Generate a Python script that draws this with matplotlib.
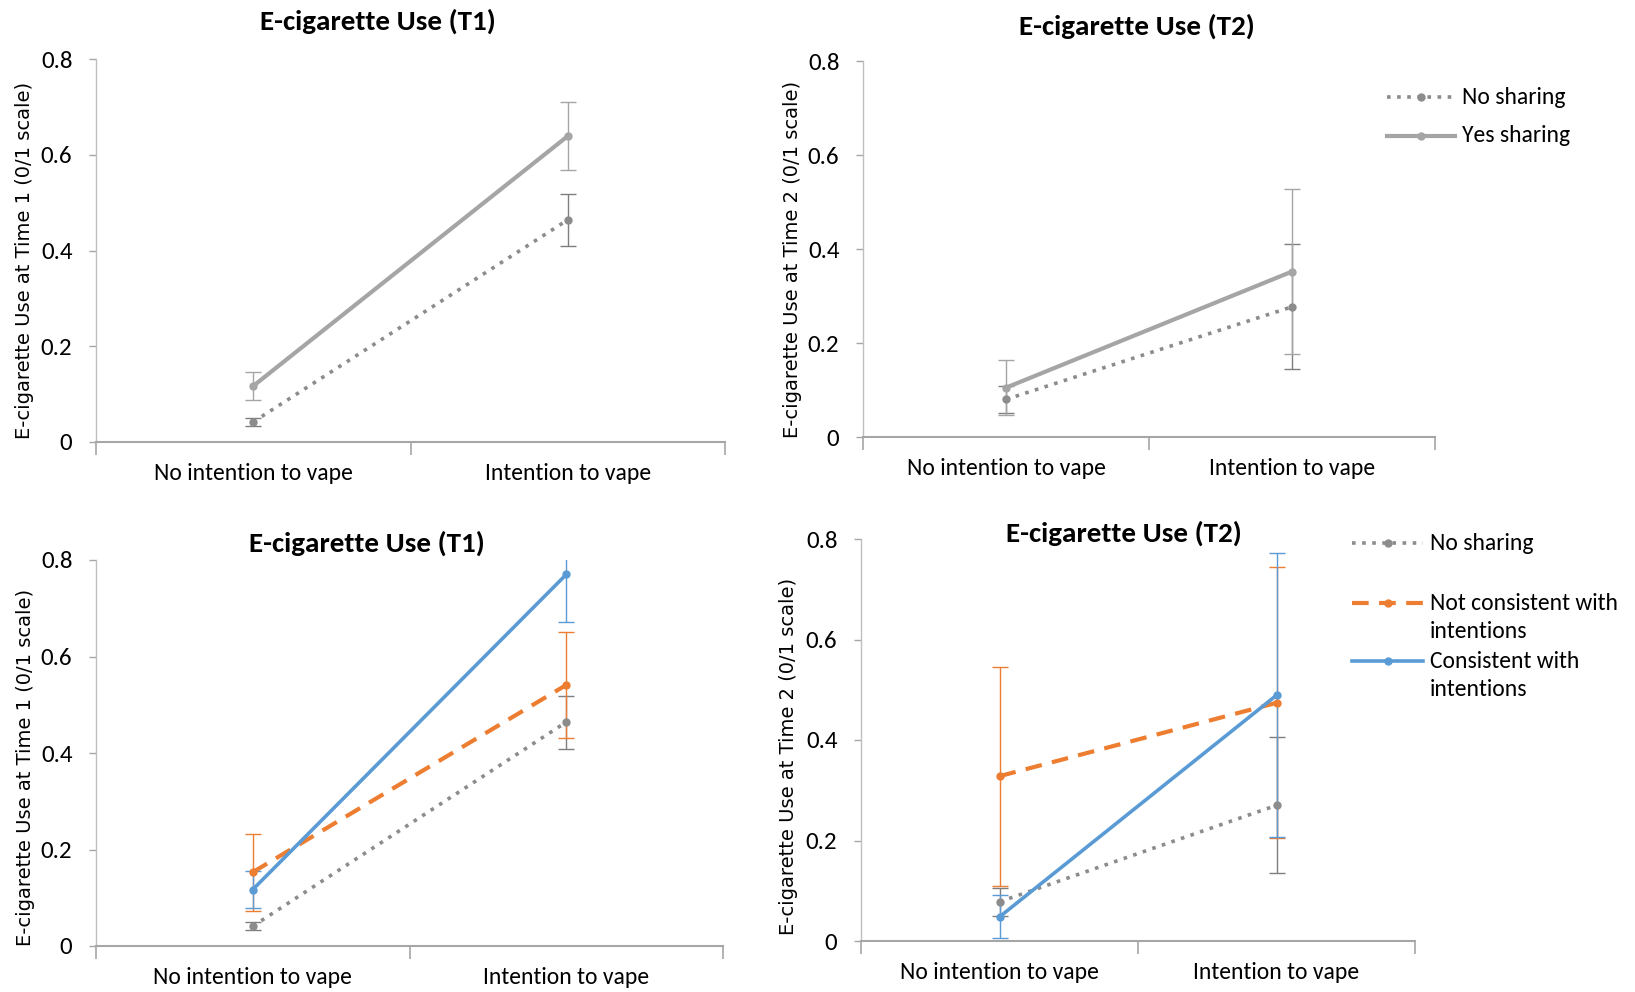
import matplotlib
matplotlib.use("Agg")
import matplotlib.pyplot as plt
from matplotlib import font_manager
from matplotlib.lines import Line2D

names = {f.name for f in font_manager.fontManager.ttflist}
NARROW = next((n for n in ["Carlito", "Calibri", "Liberation Sans Narrow", "Open Sans"] if n in names), "DejaVu Sans")

# ---------------- data ----------------
categories = ["No intention to vape", "Intention to vape"]
yticks = [0, 0.2, 0.4, 0.6, 0.8]
ytick_labels = ["0", "0.2", "0.4", "0.6", "0.8"]

# Top-left: E-cigarette use T1 by sharing
t1_no_sharing = [0.042, 0.464]
t1_no_sharing_err = [0.008, 0.055]
t1_yes_sharing = [0.117, 0.639]
t1_yes_sharing_err = [0.030, 0.071]

# Top-right: E-cigarette use T2 by sharing
t2_no_sharing = [0.080, 0.277]
t2_no_sharing_err = [0.028, 0.133]
t2_yes_sharing = [0.105, 0.352]
t2_yes_sharing_err = [0.058, 0.176]

# Bottom-left: T1 by consistency
b1_no_sharing = [0.041, 0.464]
b1_no_sharing_err = [0.008, 0.055]
b1_not_consistent = [0.153, 0.541]
b1_not_consistent_err = [0.080, 0.110]
b1_consistent = [0.117, 0.770]
b1_consistent_err = [0.038, 0.098]

# Bottom-right: T2 by consistency
b2_no_sharing = [0.078, 0.270]
b2_no_sharing_err = [0.028, 0.135]
b2_not_consistent = [0.328, 0.474]
b2_not_consistent_err = [0.218, 0.270]
b2_consistent = [0.048, 0.489]
b2_consistent_err = [0.043, 0.283]

GRAY_DOT = "#8C8C8C"
GRAY_SOLID = "#A5A5A5"
ORANGE = "#ED7D31"
BLUE = "#5B9BD5"
AXIS = "#A6A6A6"

fig = plt.figure(figsize=(16.35, 9.92), dpi=100)

W, H = 1635.0, 992.0
def axes_px(left, right, top, bottom):
    return fig.add_axes([left / W, 1 - bottom / H, (right - left) / W, (bottom - top) / H])

panels = [
    dict(box=(96, 725, 59, 442), ylabel="E-cigarette Use at Time 1 (0/1 scale)",
         title="E-cigarette Use (T1)", title_xy=(378, 21), ylab=(-0.113, 0.473)),
    dict(box=(863, 1435, 61, 437), ylabel="E-cigarette Use at Time 2 (0/1 scale)",
         title="E-cigarette Use (T2)", title_xy=(1137, 26), ylab=(-0.123, 0.473)),
    dict(box=(96, 723, 560, 946), ylabel="E-cigarette Use at Time 1 (0/1 scale)",
         title="E-cigarette Use (T1)", title_xy=(367, 543), ylab=(-0.113, 0.462)),
    dict(box=(861, 1415, 539, 941), ylabel="E-cigarette Use at Time 2 (0/1 scale)",
         title="E-cigarette Use (T2)", title_xy=(1124, 533), ylab=(-0.130, 0.46)),
]

axes = []
for p in panels:
    ax = axes_px(*p["box"])
    ax.set_xlim(0, 2)
    ax.set_ylim(0, 0.8)
    ax.set_yticks(yticks)
    ax.set_yticklabels(ytick_labels, fontfamily=NARROW, fontsize=18)
    ax.set_xticks([0, 1, 2])
    ax.set_xticklabels([])
    ax.set_xticks([0.5, 1.5], minor=True)
    ax.set_xticklabels(categories, minor=True, fontfamily=NARROW, fontsize=17)
    ax.tick_params(axis="x", which="minor", length=0, pad=15)
    ax.tick_params(axis="x", which="major", length=9, width=1.2, color=AXIS)
    ax.tick_params(axis="y", length=5, width=1.0, color=AXIS, pad=12)
    for s in ["top", "right"]:
        ax.spines[s].set_visible(False)
    ax.spines["left"].set_color("#BFBFBF")
    ax.spines["bottom"].set_color(AXIS)
    ax.spines["bottom"].set_linewidth(1.5)
    ax.spines["left"].set_linewidth(1.0)
    ax.set_ylabel(p["ylabel"], fontfamily="DejaVu Sans", fontsize=14)
    ax.yaxis.set_label_coords(*p["ylab"])
    ax.yaxis.label.set_verticalalignment("center")
    ax.patch.set_alpha(0)
    fig.text(p["title_xy"][0] / W, 1 - p["title_xy"][1] / H, p["title"],
             fontfamily=NARROW, fontsize=21, fontweight="bold", ha="center", va="center")
    axes.append(ax)

x = [0.5, 1.5]

def series(ax, y, err, color, ls, lw, ecolor, label, dashes=None):
    ax.errorbar(x, y, yerr=err, fmt="none", ecolor=ecolor, elinewidth=1.0,
                capsize=6, capthick=1.0, zorder=2, clip_on=True)
    line, = ax.plot(x, y, color=color, linestyle=ls, linewidth=lw, marker="o",
                    markersize=5, markerfacecolor=color, markeredgecolor=color,
                    label=label, zorder=3, clip_on=False)
    if dashes is not None:
        line.set_dashes(dashes)
    return line

def legend_entry(line, x0, x1, y_px, text, dashes=None):
    yf = 1 - y_px / H
    h = Line2D([x0 / W, x1 / W], [yf, yf], transform=fig.transFigure,
               color=line.get_color(), linewidth=line.get_linewidth())
    if dashes is not None:
        h.set_dashes(dashes)
    m = Line2D([(x0 + x1) / 2 / W], [yf], transform=fig.transFigure, linestyle="none",
               marker="o", markersize=5, color=line.get_color())
    fig.add_artist(h)
    fig.add_artist(m)
    nlines = text.count("\n") + 1
    ty = y_px + (nlines - 1) * 14.5
    fig.text((x1 + 7) / W, 1 - ty / H, text, fontfamily=NARROW, fontsize=17,
             ha="left", va="center", linespacing=1.45)

DOT = (1, 1.8)
DASH = (4, 2.5)

# Top-left
ax = axes[0]
series(ax, t1_no_sharing, t1_no_sharing_err, GRAY_DOT, ":", 2.6, "#7F7F7F", "No sharing", dashes=DOT)
series(ax, t1_yes_sharing, t1_yes_sharing_err, GRAY_SOLID, "-", 3.0, GRAY_SOLID, "Yes sharing")

# Top-right
ax = axes[1]
h1 = series(ax, t2_no_sharing, t2_no_sharing_err, GRAY_DOT, ":", 2.6, "#7F7F7F", "No sharing", dashes=DOT)
h2 = series(ax, t2_yes_sharing, t2_yes_sharing_err, GRAY_SOLID, "-", 3.0, GRAY_SOLID, "Yes sharing")
legend_entry(h1, 1387, 1455, 97, "No sharing", dashes=DOT)
legend_entry(h2, 1387, 1455, 136, "Yes sharing")

# Bottom-left
ax = axes[2]
series(ax, b1_no_sharing, b1_no_sharing_err, GRAY_DOT, ":", 2.6, "#7F7F7F", "No sharing", dashes=DOT)
series(ax, b1_not_consistent, b1_not_consistent_err, ORANGE, "--", 3.0, ORANGE, "Not consistent with\nintentions", dashes=DASH)
series(ax, b1_consistent, b1_consistent_err, BLUE, "-", 2.6, BLUE, "Consistent with\nintentions")

# Bottom-right
ax = axes[3]
g1 = series(ax, b2_no_sharing, b2_no_sharing_err, GRAY_DOT, ":", 2.6, "#7F7F7F", "No sharing", dashes=DOT)
g2 = series(ax, b2_not_consistent, b2_not_consistent_err, ORANGE, "--", 3.0, ORANGE, "Not consistent with\nintentions", dashes=DASH)
g3 = series(ax, b2_consistent, b2_consistent_err, BLUE, "-", 2.6, BLUE, "Consistent with\nintentions")
legend_entry(g1, 1352, 1423, 543, "No sharing", dashes=DOT)
legend_entry(g2, 1352, 1423, 603, "Not consistent with\nintentions", dashes=DASH)
legend_entry(g3, 1352, 1423, 661, "Consistent with\nintentions")

fig.savefig("out.png", dpi=100)
